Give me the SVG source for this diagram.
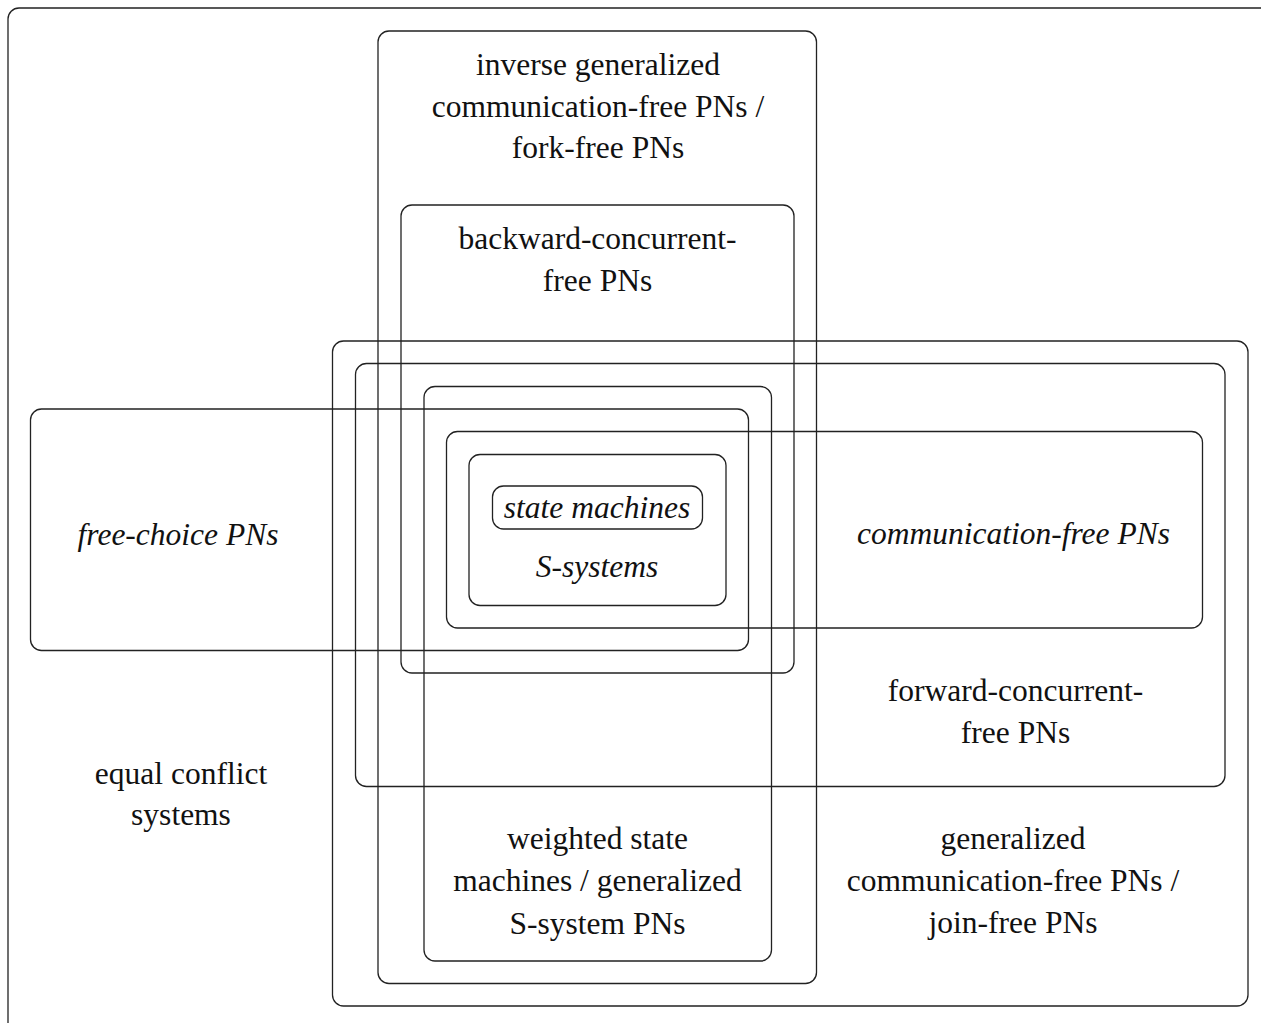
<svg xmlns="http://www.w3.org/2000/svg" width="1261" height="1023" viewBox="0 0 1261 1023">
<style>
  rect.set { fill: none; stroke: #222; stroke-width: 1.3; }
  text { font-family: "Liberation Serif", "Times New Roman", serif; font-size: 31.5px; fill: #111; text-anchor: middle; }
  text.it { font-style: italic; }
</style>
<rect width="1261" height="1023" fill="#ffffff"/>
<g id="equal-conflict-systems">
  <rect class="set" x="8" y="8" width="1300" height="1100" rx="11"/>
  <text x="181" y="784">equal conflict</text>
  <text x="181" y="825">systems</text>
</g>
<g id="join-free-pns">
  <rect class="set" x="332.5" y="341" width="915.5" height="665" rx="11"/>
  <text x="1013" y="848.5">generalized</text>
  <text x="1013" y="890.5">communication-free PNs /</text>
  <text x="1013" y="933">join-free PNs</text>
</g>
<g id="forward-concurrent-free-pns">
  <rect class="set" x="355.5" y="363.5" width="869.5" height="423" rx="11"/>
  <text x="1015.5" y="700.5">forward-concurrent-</text>
  <text x="1015.5" y="742.5">free PNs</text>
</g>
<g id="fork-free-pns">
  <rect class="set" x="378" y="31" width="438.5" height="952.5" rx="11"/>
  <text x="598" y="75">inverse generalized</text>
  <text x="598" y="116.5">communication-free PNs /</text>
  <text x="598" y="158">fork-free PNs</text>
</g>
<g id="backward-concurrent-free-pns">
  <rect class="set" x="401" y="205" width="393" height="468" rx="11"/>
  <text x="597.5" y="249">backward-concurrent-</text>
  <text x="597.5" y="290.5">free PNs</text>
</g>
<g id="weighted-state-machines">
  <rect class="set" x="424" y="386.5" width="347.5" height="574.5" rx="11"/>
  <text x="597.5" y="848.5">weighted state</text>
  <text x="597.5" y="890.5">machines / generalized</text>
  <text x="597.5" y="934">S-system PNs</text>
</g>
<g id="free-choice-pns">
  <rect class="set" x="30.5" y="409" width="718" height="241.5" rx="11"/>
  <text class="it" x="178" y="545">free-choice PNs</text>
</g>
<g id="communication-free-pns">
  <rect class="set" x="446.5" y="431.5" width="756" height="196.5" rx="11"/>
  <text class="it" x="1013.5" y="543.5">communication-free PNs</text>
</g>
<g id="s-systems">
  <rect class="set" x="469" y="454.5" width="257" height="151" rx="11"/>
  <text class="it" x="597" y="577">S-systems</text>
</g>
<g id="state-machines">
  <rect class="set" x="492.5" y="486" width="210" height="43" rx="11"/>
  <text class="it" x="597" y="518">state machines</text>
</g>
<g id="connectors"/>
</svg>
